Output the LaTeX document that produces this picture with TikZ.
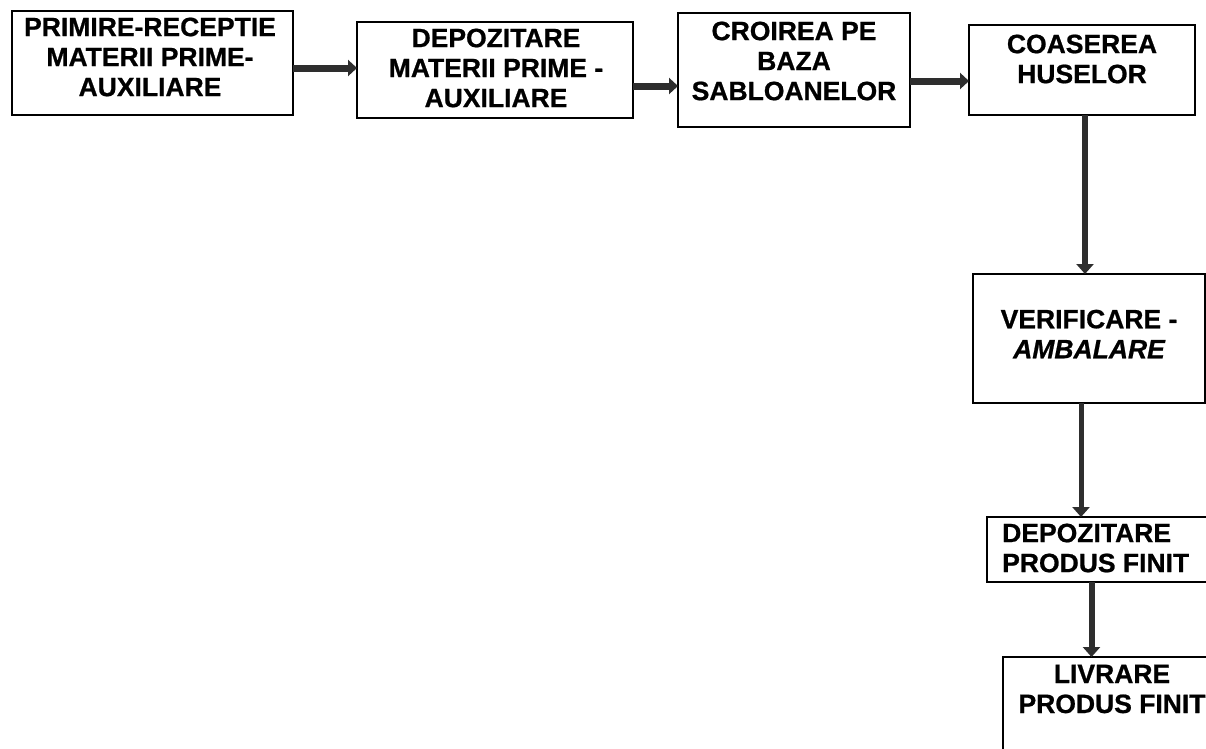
\documentclass[tikz,border=0pt]{standalone}
\usepackage{fontspec}
\setmainfont{Liberation Sans}[BoldFeatures={FakeBold=0.8},BoldItalicFeatures={FakeBold=0.8}]
\usetikzlibrary{arrows.meta}
\begin{document}
\begin{tikzpicture}[x=1pt,y=-1pt,
  box/.style={draw=black,line width=1.4pt,inner sep=0pt,outer sep=0pt,anchor=north west,fill=white},
  lbl/.style={align=center,inner sep=0pt,font=\fontsize{26.5}{30}\selectfont\bfseries},
  flow/.style={draw=black!82,line width=7pt,-{Triangle[width=16pt,length=9pt]}},
  flowv/.style={draw=black!82,line width=6pt,-{Triangle[width=17pt,length=10pt]}}]
\useasboundingbox[fill=white] (0,0) rectangle (1206,748);
\begin{scope}
\clip (0,0) rectangle (1206,748);
% boxes
\node[box,minimum width=281pt,minimum height=104pt] (b1) at (12,11) {};
\node[box,minimum width=276pt,minimum height=96pt] (b2) at (357,22) {};
\node[box,minimum width=232pt,minimum height=114pt] (b3) at (678,13) {};
\node[box,minimum width=226pt,minimum height=90pt] (b4) at (969,25) {};
\node[box,minimum width=232pt,minimum height=129pt] (b5) at (973,274) {};
\node[box,minimum width=225pt,minimum height=65pt] (b6) at (987,517) {};
\node[box,minimum width=215pt,minimum height=110pt] (b7) at (1003,657) {};
% labels
\node[lbl] (t1) at (150,57) {PRIMIRE-RECEPTIE\\MATERII PRIME-\\AUXILIARE};
\node[lbl] (t2) at (496,68) {DEPOZITARE\\MATERII PRIME -\\AUXILIARE};
\node[lbl] (t3) at (794,61) {CROIREA PE\\BAZA\\SABLOANELOR};
\node[lbl] (t4) at (1082,59) {COASEREA\\HUSELOR};
\node[lbl] (t5) at (1089,334) {VERIFICARE -\\\itshape AMBALARE};
\node[lbl,align=left,anchor=west] (t6) at (1002,548) {DEPOZITARE\\PRODUS FINIT};
\node[lbl] (t7) at (1112,689) {LIVRARE\\PRODUS FINIT};
% connectors
\draw[flow] ([yshift=-5pt]b1.east) -- ([yshift=-5pt]b1.east -| b2.west);
\draw[flow] ([yshift=-16pt]b2.east) -- ([yshift=-16pt]b2.east -| b3.west);
\draw[flow] ([yshift=-11pt]b3.east) -- ([yshift=-11pt]b3.east -| b4.west);
\draw[flowv] ([xshift=3pt]b4.south) -- ([xshift=3pt]b4.south |- b5.north);
\draw[flowv,line width=5pt] ([xshift=-8pt]b5.south) -- ([xshift=-8pt]b5.south |- b6.north);
\draw[flowv] ([xshift=-8pt]b6.south) -- ([xshift=-8pt]b6.south |- b7.north);
\end{scope}
\end{tikzpicture}
\end{document}
